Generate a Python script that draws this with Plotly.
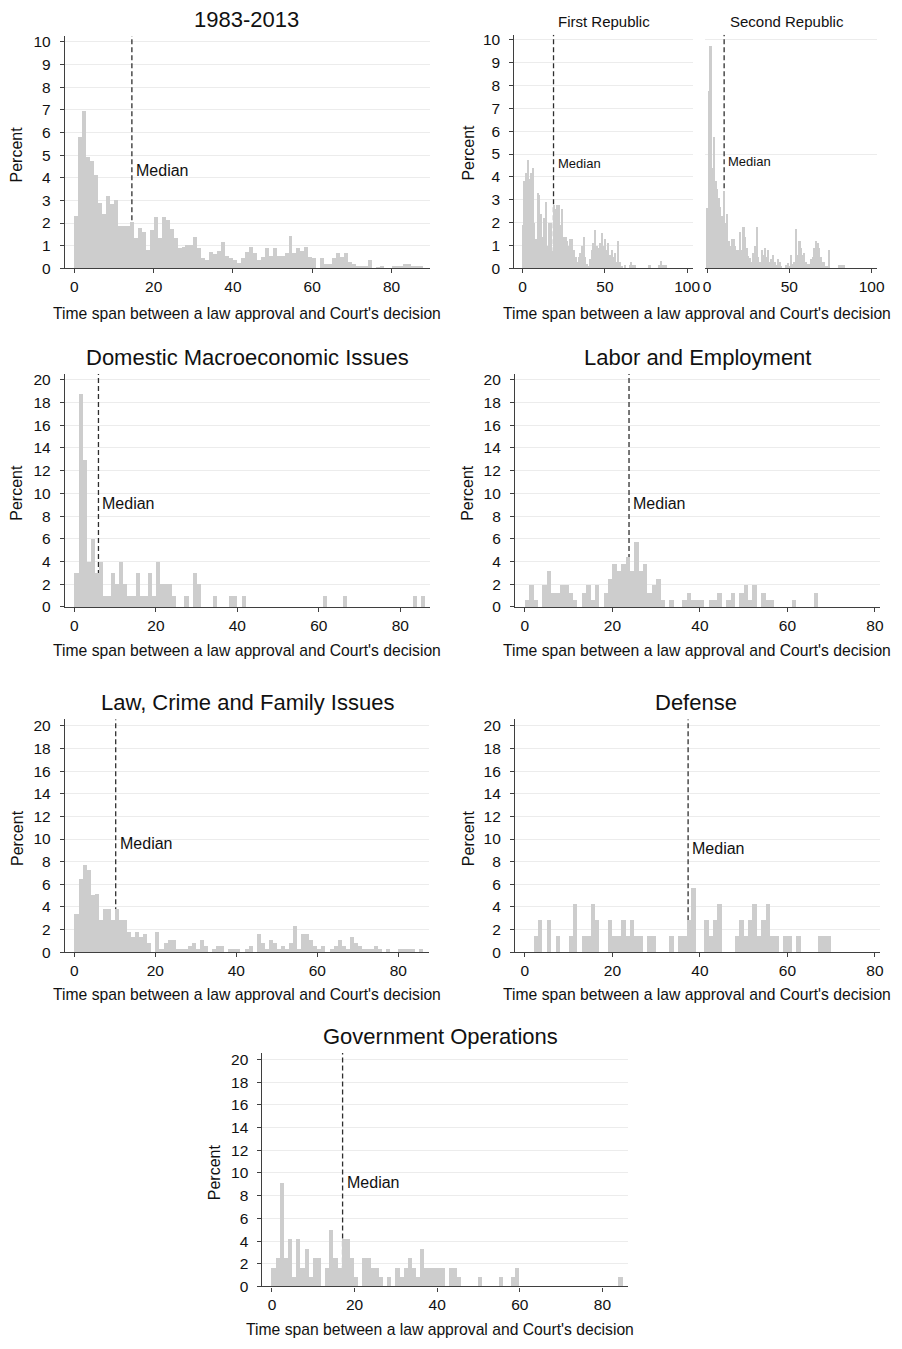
import numpy as np
import plotly.graph_objects as go

W, H = 902, 1349
FONT = "Liberation Sans, Arial, sans-serif"
INK = "#111111"
BAR = "#cdcdcd"
AXIS = "#3f3f3f"
GRID = "#ececec"

# Percent of cases in each one-unit bin of the time span, first bin starts at 0
all_years_pct = [
    2.3, 5.8, 6.95, 4.9, 4.75, 4.1, 2.9, 2.4, 3.2, 2.85,
    3.0, 1.85, 1.85, 1.85, 2.05, 1.35, 1.8, 1.6, 0.8, 1.7,
    2.25, 1.35, 2.25, 2.15, 1.75, 1.35, 0.9, 0.95, 1.05, 1.05,
    1.4, 0.9, 0.45, 0.35, 0.7, 0.65, 0.75, 1.15, 0.55, 0.45,
    0.35, 0.25, 0.44, 0.73, 0.95, 0.69, 0.37, 0.51, 0.88, 0.54,
    0.88, 0.54, 0.54, 0.66, 1.42, 0.66, 0.88, 0.77, 0.95, 0.51,
    0.44, 0.0, 0.44, 0.18, 0.18, 0.44, 0.69, 0.51, 0.69, 0.29,
    0.18, 0.1, 0.1, 0.1, 0.35, 0.0, 0.07, 0.1, 0.0, 0.0,
    0.1, 0.1, 0.1, 0.18, 0.18, 0.1, 0.1, 0.1,
]

first_republic_pct = [
    1.9, 3.85, 4.2, 4.75, 3.9, 4.2, 4.4, 2.0, 1.3, 3.3,
    3.2, 2.4, 1.4, 2.2, 2.9, 1.0, 2.0, 2.0, 0.75, 2.8,
    2.6, 2.8, 2.8, 1.9, 2.6, 1.4, 1.4, 1.2, 1.0, 1.3,
    1.3, 0.8, 0.5, 0.3, 0.5, 0.7, 1.0, 1.4, 0.5, 0.2,
    0.1, 0.4, 0.8, 1.1, 1.7, 1.0, 0.9, 1.1, 1.55, 1.0,
    1.3, 0.8, 1.1, 0.6, 0.8, 0.5, 0.7, 0.3, 1.2, 0.3,
    0.1, 0.0, 0.15, 0.0, 0.0, 0.15, 0.3, 0.15, 0.15, 0.0,
    0.0, 0.0, 0.0, 0.0, 0.0, 0.0, 0.0, 0.15, 0.0, 0.0,
    0.0, 0.0, 0.0, 0.15, 0.35, 0.15, 0.15, 0.15,
]

second_republic_pct = [
    2.65, 7.75, 9.75, 4.4, 5.75, 3.85, 3.5, 3.1, 2.7, 2.3,
    3.4, 2.0, 2.4, 1.2, 1.0, 1.3, 1.3, 1.0, 0.8, 0.8,
    1.6, 0.8, 1.8, 1.4, 0.9, 0.55, 0.45, 0.3, 0.7, 1.0,
    1.8, 0.5, 0.3, 0.8, 0.6, 0.9, 0.5, 0.8, 0.3, 0.4,
    0.6, 0.3, 0.15, 0.4, 0.3, 0.1, 0.0, 0.0, 0.15, 0.25,
    0.1, 0.6, 0.2, 0.3, 1.75, 0.6, 1.2, 0.9, 0.6, 0.7,
    0.3, 0.2, 0.2, 0.4, 0.5, 0.9, 1.2, 1.1, 0.9, 0.5,
    0.3, 0.3, 0.1, 0.1, 0.8, 0.0, 0.0, 0.0, 0.0, 0.0,
    0.15, 0.15, 0.15, 0.15,
]

macroeconomy_pct = [
    3, 18.8, 12.9, 4, 6, 3, 4, 1, 1, 3,
    2, 4, 2, 1, 1, 3, 1, 1, 3, 1,
    4, 2, 2, 2, 1, 0, 0, 1, 0, 3,
    2, 0, 0, 0, 1, 0, 0, 0, 1, 1,
    0, 1, 0, 0, 0, 0, 0, 0, 0, 0,
    0, 0, 0, 0, 0, 0, 0, 0, 0, 0,
    0, 1, 0, 0, 0, 0, 1, 0, 0, 0,
    0, 0, 0, 0, 0, 0, 0, 0, 0, 0,
    0, 0, 0, 1, 0, 1,
]

labor_pct = [
    0.63, 1.9, 0.63, 0, 1.9, 3.15, 1.25, 1.25, 1.9, 1.9,
    1.25, 0.63, 0, 1.25, 1.9, 0.63, 1.9, 0, 1.25, 2.5,
    3.8, 3.15, 3.8, 4.4, 3.15, 5.7, 3.15, 3.8, 1.25, 1.9,
    2.5, 0.63, 0, 0.63, 0, 0, 0.63, 1.25, 0.63, 0.63,
    0.63, 0, 0.63, 0.63, 1.25, 0, 0.63, 1.25, 0, 1.25,
    1.9, 0.63, 1.9, 0, 1.25, 0.63, 0.63, 0, 0, 0,
    0, 0.63, 0, 0, 0, 0, 1.25,
]

law_crime_pct = [
    3.35, 6.4, 7.7, 7.2, 5.0, 5.1, 2.8, 3.8, 3.8, 2.8,
    3.8, 2.8, 2.8, 1.8, 1.3, 1.8, 1.3, 1.55, 0.75, 0,
    1.8, 0.25, 0.75, 1.05, 1.05, 0.25, 0.25, 0.25, 0.55, 0.8,
    0.25, 1.05, 0.5, 0, 0.25, 0.5, 0.5, 0, 0.25, 0.25,
    0.25, 0, 0.25, 0.5, 0, 1.55, 0.8, 0.25, 1.05, 0.8,
    0.25, 0.55, 0.25, 0.8, 2.3, 0.25, 1.55, 1.55, 1.05, 0.55,
    0.25, 0.5, 0, 0.25, 0.5, 1.05, 0.55, 0.25, 1.3, 0.8,
    0.5, 0.25, 0.25, 0.25, 0.5, 0.25, 0, 0.25, 0, 0,
    0.25, 0.25, 0.25, 0.25, 0, 0.25,
]

defense_pct = [
    0, 0, 1.41, 2.82, 0, 2.82, 0, 1.41, 0, 0,
    1.41, 4.23, 0, 1.41, 1.41, 4.23, 2.82, 0, 0, 2.82,
    1.41, 1.41, 2.82, 1.41, 2.82, 1.41, 1.41, 0, 1.41, 1.41,
    0, 0, 0, 1.41, 0, 1.41, 1.41, 2.82, 5.63, 0,
    0, 2.82, 1.41, 2.82, 4.23, 0, 0, 0, 1.41, 2.82,
    1.41, 2.82, 4.23, 1.41, 2.82, 4.23, 1.41, 1.41, 0, 1.41,
    1.41, 0, 1.41, 0, 0, 0, 0, 1.41, 1.41, 1.41,
]

gov_operations_pct = [
    1.67, 2.5, 9.17, 2.5, 4.17, 0.83, 4.17, 1.67, 3.33, 0.83,
    2.5, 2.5, 0, 1.67, 5.0, 2.5, 1.67, 4.17, 4.17, 2.5,
    0.83, 0, 2.5, 2.5, 1.67, 1.67, 0.83, 0, 0.83, 0,
    1.67, 0.83, 1.67, 2.5, 1.67, 0.83, 3.33, 1.67, 1.67, 1.67,
    1.67, 1.67, 0, 1.67, 1.67, 0.83, 0, 0, 0, 0,
    0.83, 0, 0, 0, 0, 0.83, 0, 0, 0.83, 1.67,
    0, 0, 0, 0, 0, 0, 0, 0, 0, 0,
    0, 0, 0, 0, 0, 0, 0, 0, 0, 0,
    0, 0, 0, 0, 0.83,
]

# Median time span for each group
medians = {
    "all": 14.5, "first": 18.8, "second": 10.4, "macro": 5.9,
    "labor": 23.8, "law": 10.2, "defense": 37.3, "gov": 17.1,
}

panel_titles = [
    "1983-2013", "Domestic Macroeconomic Issues", "Labor and Employment",
    "Law, Crime and Family Issues", "Defense", "Government Operations",
]
republic_labels = ["First Republic", "Second Republic"]
x_title = "Time span between a law approval and Court's decision"
y_title = "Percent"

BIN_WIDTH = 1.0

# Plot boxes in pixels: left, right, top, bottom; axis ranges; tick values
panels = [
    dict(key="all", data=all_years_pct, box=(62.7, 432.0, 32.3, 266.7),
         xr=(-2.39, 89.64), ymax=10.26, xt=[0, 20, 40, 60, 80],
         yt=list(range(0, 11)), label_y=4.23, lab_size=16, yaxis=True),
    dict(key="first", data=first_republic_pct, box=(517.7, 698.3, 31.0, 266.7),
         xr=(-4.98, 103.4), ymax=10.22, xt=[0, 50, 100],
         yt=list(range(0, 11)), label_y=4.52, lab_size=13, yaxis=True),
    dict(key="second", data=second_republic_pct, box=(711.0, 885.0, 31.0, 266.7),
         xr=(-1.02, 103.4), ymax=10.22, xt=[0, 50, 100],
         yt=[5, 10], label_y=4.62, lab_size=13, yaxis=False),
    dict(key="macro", data=macroeconomy_pct, box=(62.7, 432.3, 373.3, 608.3),
         xr=(-2.33, 87.3), ymax=20.52, xt=[0, 20, 40, 60, 80],
         yt=list(range(0, 21, 2)), label_y=9.0, lab_size=16, yaxis=True),
    dict(key="labor", data=labor_pct, box=(518.3, 888.3, 373.3, 608.3),
         xr=(-2.26, 81.26), ymax=20.52, xt=[0, 20, 40, 60, 80],
         yt=list(range(0, 21, 2)), label_y=9.0, lab_size=16, yaxis=True),
    dict(key="law", data=law_crime_pct, box=(62.7, 431.7, 721.7, 956.7),
         xr=(-2.34, 87.7), ymax=20.58, xt=[0, 20, 40, 60, 80],
         yt=list(range(0, 21, 2)), label_y=9.5, lab_size=16, yaxis=True),
    dict(key="defense", data=defense_pct, box=(518.3, 888.3, 721.7, 956.7),
         xr=(-2.26, 81.26), ymax=20.58, xt=[0, 20, 40, 60, 80],
         yt=list(range(0, 21, 2)), label_y=9.0, lab_size=16, yaxis=True),
    dict(key="gov", data=gov_operations_pct, box=(262.7, 632.3, 1058.3, 1294.0),
         xr=(-2.29, 86.1), ymax=20.58, xt=[0, 20, 40, 60, 80],
         yt=list(range(0, 21, 2)), label_y=9.0, lab_size=16, yaxis=True),
]

fig = go.Figure()
layout = dict(
    width=W, height=H, margin=dict(l=0, r=0, t=0, b=0),
    paper_bgcolor="white", plot_bgcolor="white", showlegend=False,
    bargap=0, font=dict(family=FONT, color=INK, size=15),
)
shapes, annotations = [], []

for i, p in enumerate(panels, start=1):
    xa, ya = f"x{i}", f"y{i}"
    left, right, top, bottom = p["box"]
    vals = np.asarray(p["data"], dtype=float)
    centers = np.arange(len(vals)) * BIN_WIDTH + BIN_WIDTH / 2
    fig.add_trace(go.Bar(
        x=centers, y=vals, width=BIN_WIDTH, xaxis=xa, yaxis=ya,
        marker=dict(color=BAR, line=dict(width=0)), hoverinfo="x+y",
    ))
    layout[f"xaxis{i}"] = dict(
        domain=[left / W, right / W], range=list(p["xr"]), anchor=ya,
        showline=True, linecolor=AXIS, linewidth=1.2, ticks="outside",
        ticklen=4, tickwidth=1.2, tickcolor=AXIS, tickvals=p["xt"],
        tickfont=dict(size=15.5, family=FONT, color=INK), showgrid=False,
        zeroline=False, fixedrange=True, ticklabelstandoff=0,
    )
    yax = dict(
        domain=[1 - bottom / H, 1 - top / H], range=[0, p["ymax"]], anchor=xa,
        tickvals=p["yt"], showgrid=True, gridcolor=GRID, gridwidth=1,
        zeroline=False, fixedrange=True,
    )
    if p["yaxis"]:
        yax.update(showline=True, linecolor=AXIS, linewidth=1.2,
                   ticks="outside", ticklen=4, tickwidth=1.2, tickcolor=AXIS,
                   tickfont=dict(size=15.5, family=FONT, color=INK),
                   ticklabelstandoff=6)
    else:
        yax.update(showline=False, ticks="", showticklabels=False)
    layout[f"yaxis{i}"] = yax

    med = medians[p["key"]]
    shapes.append(dict(
        type="line", xref=xa, yref=ya, x0=med, x1=med, y0=0, y1=p["ymax"],
        line=dict(color="#2e2e2e", width=1.3, dash="5px,3px"), layer="between",
    ))
    annotations.append(dict(
        xref=xa, yref=ya, x=med, y=p["label_y"], text="Median",
        showarrow=False, xanchor="left", yanchor="middle", xshift=2,
        yshift=0.1 * p["lab_size"],
        font=dict(size=p["lab_size"], family=FONT, color=INK),
    ))


def paper_text(text, px, py, size, angle=0):
    if angle == 0:
        py -= 0.06 * size
    annotations.append(dict(
        xref="paper", yref="paper", x=px / W, y=1 - py / H, text=text,
        showarrow=False, xanchor="center", yanchor="middle", textangle=angle,
        font=dict(size=size, family=FONT, color=INK),
    ))


# Panel titles
title_pos = [(247, 17), (247.7, 358), (703.3, 358), (247.5, 705.7),
             (701.7, 705.7), (442.7, 1043.3)]
for t, (tx, ty) in zip(panel_titles, title_pos):
    paper_text(t, tx, ty, 22)

for t, (tx, ty) in zip(republic_labels, [(608.3, 19), (794, 19)]):
    paper_text(t, tx, ty, 15)

# Axis titles
for tx, ty in [(247, 313), (703, 313), (247, 653.3), (703, 653.3),
               (247, 1000), (703, 1000), (442.5, 1338.3)]:
    paper_text(x_title, tx, ty, 15.7)

for tx, ty in [(14, 152), (471.7, 150), (14, 493.3), (470.7, 493.3),
               (14, 841.7), (470.7, 841.7), (214, 1178.3)]:
    paper_text(y_title, tx, ty, 16, angle=-90)

layout["shapes"] = shapes
layout["annotations"] = annotations
fig.update_layout(**layout)

fig.write_html("out.html")
